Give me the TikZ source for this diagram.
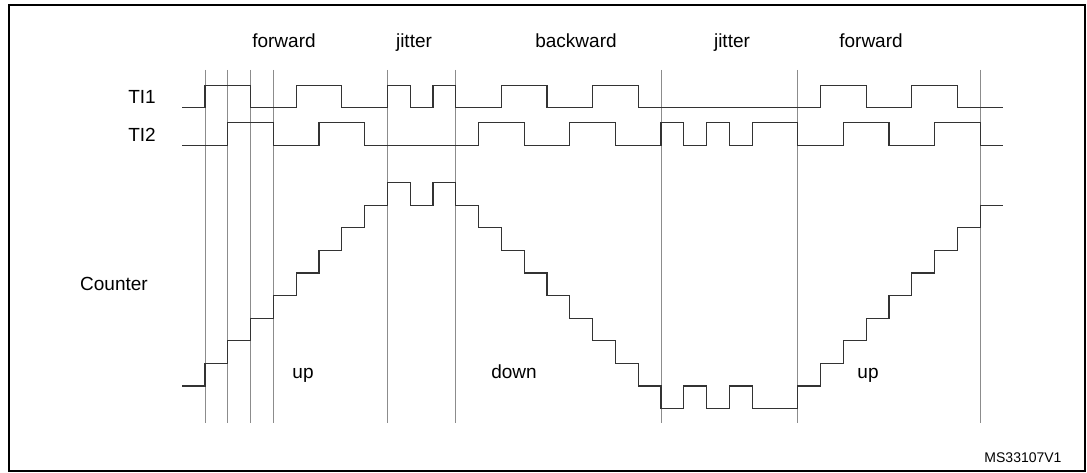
\documentclass[tikz,border=0pt]{standalone}
\usepackage{fontspec}
\setmainfont{Liberation Sans}
\begin{document}
\begin{tikzpicture}[x=1pt,y=-1pt,
  sig/.style={draw=black!80,line width=1.1pt,const plot},
  grid/.style={draw=black!45,line width=0.8pt},
  lbl/.style={inner sep=0pt,anchor=base,font=\fontsize{19}{22}\selectfont}]
\useasboundingbox (0,0) rectangle (1087,473);
\draw[line width=1.3pt] (9,5) rectangle (1085,471);
\begin{scope}[xshift=205pt,x=22.8pt]
\foreach \i in {0,1,2,3,8,11,20,26,34} \draw[grid] (\i,70) -- (\i,423);
\draw[sig] plot coordinates {(-1,107.7)(0,85.3)(2,107.7)(4,85.3)(6,107.7)(8,85.3)(9,107.7)(10,85.3)(11,107.7)(13,85.3)(15,107.7)(17,85.3)(19,107.7)(27,85.3)(29,107.7)(31,85.3)(33,107.7)(35,107.7)};
\draw[sig] plot coordinates {(-1,145.3)(1,122.7)(3,145.3)(5,122.7)(7,145.3)(12,122.7)(14,145.3)(16,122.7)(18,145.3)(20,122.7)(21,145.3)(22,122.7)(23,145.3)(24,122.7)(26,145.3)(28,122.7)(30,145.3)(32,122.7)(34,145.3)(35,145.3)};
\draw[sig] plot coordinates {(-1,386)(0,363.4)(1,340.8)(2,318.2)(3,295.6)(4,273)(5,250.4)(6,227.8)(7,205.2)(8,182.6)(9,205.2)(10,182.6)(11,205.2)(12,227.8)(13,250.4)(14,273)(15,295.6)(16,318.2)(17,340.8)(18,363.4)(19,386)(20,408.6)(21,386)(22,408.6)(23,386)(24,408.6)(26,386)(27,363.4)(28,340.8)(29,318.2)(30,295.6)(31,273)(32,250.4)(33,227.8)(34,205.2)(35,205.2)};
\end{scope}
\node[lbl] (f1) at (284,48) {forward};
\node[lbl] (j1) at (414,48) {jitter};
\node[lbl] (b1) at (576,48) {backward};
\node[lbl] (j2) at (732,48) {jitter};
\node[lbl] (f2) at (871,48) {forward};
\node[lbl] (ti1) at (142,104) {TI1};
\node[lbl] (ti2) at (142,142) {TI2};
\node[lbl] (cnt) at (114,290) {Counter};
\node[lbl] (u1) at (303,378) {up};
\node[lbl] (dn) at (514,378) {down};
\node[lbl] (u2) at (868,378) {up};
\node[inner sep=0pt,anchor=base,font=\fontsize{14}{16}\selectfont] (ms) at (1023,462) {MS33107V1};
\end{tikzpicture}
\end{document}
